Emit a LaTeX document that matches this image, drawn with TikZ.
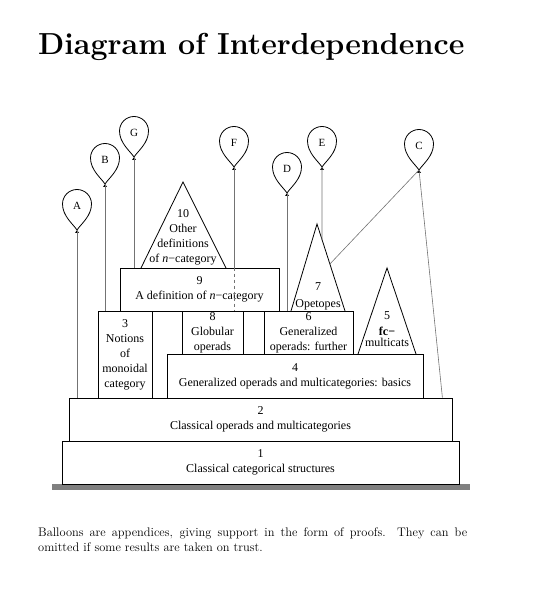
\documentclass[tikz,border=0pt]{standalone}
\usepackage{fontspec}
\newfontfamily\diagfont{Liberation Serif}
\usetikzlibrary{calc}

\begin{document}
\begin{tikzpicture}[x=1pt,y=-1pt,
		box/.style={draw, line width=0.8pt, inner sep=0pt, align=center, font=\diagfont\fontsize{12}{15}\selectfont},
		tri/.style={draw, line width=0.8pt},
		lbl/.style={inner sep=0pt, align=center, font=\diagfont\fontsize{12}{15}\selectfont},
		string/.style={draw=black!55, line width=0.6pt},
		balloon/.style={draw, line width=0.8pt}]
	\useasboundingbox (0,0) rectangle (540,601);
	\node[anchor=base west, inner sep=0pt, font=\fontsize{30.4}{36}\selectfont\bfseries] (title) at (38,55) {Diagram of Interdependence};
	% ground and the stacked boxes
	\fill[black!50] (52,484) rectangle (470,490);
	\node[box, minimum width=397, minimum height=43] (b1) at (260.5,462.5) {1\\Classical categorical structures};
	\node[box, minimum width=383, minimum height=43] (b2) at (260.5,419.5) {2\\Classical operads and multicategories};
	\node[box, minimum width=256, minimum height=44] (b4) at (295,376) {4\\Generalized operads and multicategories: basics};
	\node[box, minimum width=54, minimum height=87] (b3) at (125,354.5) {3\\Notions\\of\\monoidal\\category};
	\node[box, minimum width=61, minimum height=43] (b8) at (212.5,332.5) {8\\Globular\\operads};
	\node[box, minimum width=89, minimum height=43] (b6) at (308.5,332.5) {6\\Generalized\\operads: further};
	\node[box, minimum width=159, minimum height=43] (b9) at (199.5,289.5) {9\\A definition of {\itshape n}−category};
	% triangles
	\coordinate (t10top) at (183,182);
	\coordinate (t10l) at (141,268);
	\coordinate (t10r) at (226,268);
	\draw[tri] (t10l) -- (t10top) -- (t10r);
	\node[lbl] (t10txt) at (183,237) {10\\Other\\definitions\\of {\itshape n}−category};
	\coordinate (t7top) at (317,224);
	\coordinate (t7l) at (291,311);
	\coordinate (t7r) at (345,311);
	\draw[tri] (t7l) -- (t7top) -- (t7r);
	\node[lbl] (t7txt) at (318,296) {7\\[2pt]Opetopes};
	\coordinate (t5top) at (387,268);
	\coordinate (t5l) at (358,354);
	\coordinate (t5r) at (416,354);
	\draw[tri] (t5l) -- (t5top) -- (t5r);
	\node[lbl] (t5txt) at (387,329) {5\\[1pt]\textbf{fc−}\\[-4pt]multicats};
	% balloons
	\foreach \n/\x/\y in {A/77/230, B/105/184, G/134/157, F/234/167, D/287/193, E/322/167, C/419/170} {
		\coordinate (tip\n) at (\x,\y);
		\node[lbl, font=\diagfont\fontsize{11}{13}\selectfont] (bal\n) at (\x,\y-24) {\n};
		\draw[balloon] (tip\n) .. controls +(-4,-6) and +(0,12) .. ++(-14.5,-26)
			arc[start angle=180, end angle=360, radius=14.5]
			.. controls +(0,12) and +(4,-6) .. (tip\n);
		\fill (tip\n) -- ++(-2,3) -- ++(4,0) -- cycle;
	}
	% strings
	\coordinate (Ebot) at (tipE |- b6.north);
	\draw[string] (tipA) -- (tipA |- b2.north);
	\draw[string] (tipB) -- (tipB |- b3.north);
	\draw[string] (tipG) -- (tipG |- b9.north);
	\draw[string] (tipF) -- (tipF |- b9.north);
	\draw[string, dashed] (tipF |- b9.north) -- (tipF |- b8.north);
	\draw[string] (tipD) -- (tipD |- b6.north);
	\draw[string] (tipE) -- (intersection of tipE--Ebot and t7top--t7r);
	\draw[string] (tipC) -- ($(t7top)!0.46!(t7r)$);
	\draw[string] (tipC) -- ($(b2.north east)+(-10,0)$);
	% caption
	\node[anchor=north west, text width=429pt, align=justify, inner sep=0pt, font=\fontsize{12.4}{15}\selectfont] (caption) at (38,528)
		{Balloons are appendices, giving support in the form of proofs.  They can be\linebreak omitted if some results are taken on trust.};
\end{tikzpicture}
\end{document}
